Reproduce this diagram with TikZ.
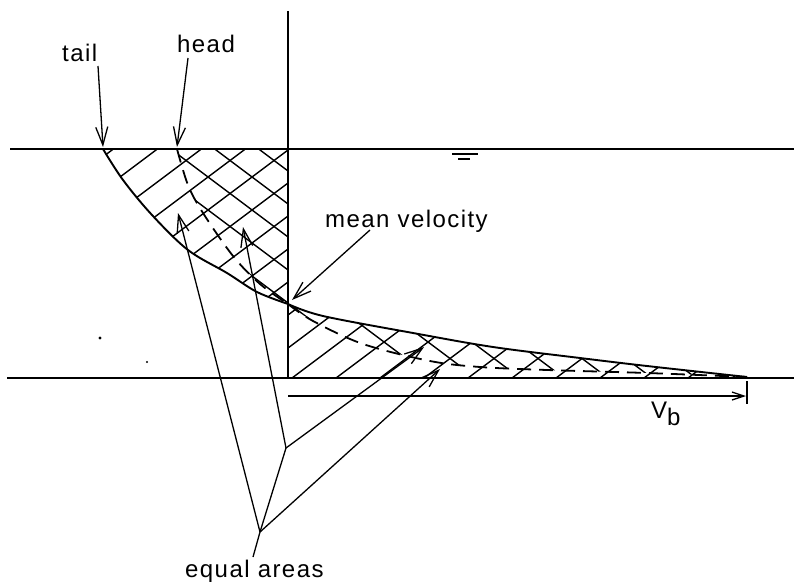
\documentclass[tikz,border=0pt]{standalone}
\usepackage{fontspec}
\newfontfamily\lbl{Liberation Sans}[LetterSpace=6]
\usetikzlibrary{arrows.meta}
\begin{document}
\begin{tikzpicture}[x=1pt,y=-1pt,
  heavy/.style={line width=2.4pt},
  curve/.style={line width=1.9pt},
  dcurve/.style={line width=1.8pt, dash pattern=on 14pt off 8pt},
  hatch/.style={line width=1.4pt},
  ptr/.style={line width=1.3pt,-{Straight Barb[length=18pt,width=12pt]}},
  vbarrow/.style={line width=1.3pt,-{Straight Barb[length=12pt,width=8pt]}},
  lnk/.style={line width=1.3pt},
  lab/.style={font=\lbl\fontsize{24}{28}\selectfont, inner sep=0pt}]
\useasboundingbox (0,0) rectangle (794,583);

% hatching "/" over the whole shaded areas
\begin{scope}
\clip plot[smooth,tension=0.55] coordinates {(103,149) (123,180) (152,215) (188,250) (227,273) (257,292) (288,304)} -- (288,149) -- cycle
      plot[smooth,tension=0.55] coordinates {(288,304) (323,316) (413,333) (493,347) (580,358) (647,366) (747,377)} -- (288,378) -- cycle;
\foreach \c in {-600,-556,...,900} \draw[hatch] (\c,420) -- (\c+560,0);
\end{scope}
% hatching "\" over the cross-hatched areas
\begin{scope}
\clip plot[smooth,tension=0.55] coordinates {(177,149) (188,185) (203,213) (233,256) (260,284) (288,304)} -- (288,149) -- cycle
      plot[smooth,tension=0.55] coordinates {(288,304) (323,316) (413,333) (493,347) (580,358) (647,366) (747,377)}
      -- plot[smooth,tension=0.55] coordinates {(747,377) (647,373) (547,370) (480,367) (430,361) (363,344) (313,321) (288,304)} -- cycle;
\foreach \c in {-600,-556,...,900} \draw[hatch] (\c,0) -- (\c+560,420);
\end{scope}

% main lines
\draw[heavy] (10,149) -- (794,149);
\draw[heavy] (7,378) -- (794,378);
\draw[heavy] (288,11) -- (288,378);
% water surface mark
\draw[line width=1.4pt] (452,154) -- (478,154);
\draw[line width=1.4pt] (458,159) -- (470,159);

% velocity profile
\draw[curve] plot[smooth,tension=0.55] coordinates {(103,149) (123,180) (152,215) (188,250) (227,273) (257,292) (288,304)};
\draw[curve] plot[smooth,tension=0.55] coordinates {(288,304) (323,316) (413,333) (493,347) (580,358) (647,366) (747,377)};
% dashed curve
\draw[dcurve] plot[smooth,tension=0.55] coordinates {(177,149) (188,185) (203,213) (233,256) (260,284) (288,304)};
\draw[dcurve] plot[smooth,tension=0.55] coordinates {(288,304) (313,321) (363,344) (430,361) (480,367) (547,370) (647,373) (747,377)};

% labels
\node[lab, anchor=base west] (tail) at (62,62) {tail};
\node[lab, anchor=base west] (head) at (177,53) {head};
\node[lab, anchor=base west] (mean) at (325,227) {mean velocity};
\node[lab, anchor=base west] (eq) at (185,577) {equal areas};
\node[lab, anchor=base west] (vb) at (651,418) {V\raisebox{-7pt}{b}};

% arrow ends
\coordinate (tailS) at (98,66);   \coordinate (tailT) at (103,147);
\coordinate (headS) at (188,58);  \coordinate (headT) at (177,147);
\coordinate (meanS) at (370,230); \coordinate (meanT) at (292,300);
\coordinate (J1) at (260,532);    \coordinate (J2) at (286,448);
\coordinate (A1) at (178,213);    \coordinate (A2) at (243,227);
\coordinate (A3) at (424,347);    \coordinate (A4) at (440,369);
\coordinate (eqT) at (253,557);
\coordinate (vbS) at (288,396);   \coordinate (vbT) at (746,396);
\coordinate (tickA) at (747,381); \coordinate (tickB) at (747,404);

\draw[ptr] (tailS) -- (tailT);
\draw[ptr] (headS) -- (headT);
\draw[ptr] (meanS) -- (meanT);
\draw[ptr] (J1) -- (A1);
\draw[ptr] (J1) -- (A4);
\draw[ptr] (J2) -- (A2);
\draw[ptr] (J2) -- (A3);
\draw[lnk] (J1) -- (J2);
\draw[lnk] (J1) -- (eqT);
\draw[vbarrow] (vbS) -- (vbT);
\draw[line width=1.4pt] (tickA) -- (tickB);

% stray dots
\fill (100,338) circle (1.6pt);
\fill (147,362) circle (1.2pt);
\end{tikzpicture}
\end{document}
